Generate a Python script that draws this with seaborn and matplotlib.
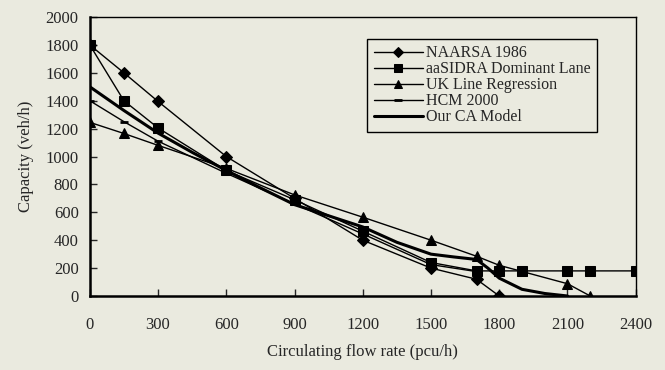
import matplotlib
matplotlib.use("Agg")
import matplotlib.pyplot as plt
import seaborn as sns

# Data
naarsa_x = [0, 150, 300, 600, 900, 1200, 1500, 1700, 1800]
naarsa_y = [1800, 1600, 1395, 1000, 700, 400, 200, 120, 0]

sidra_x = [0, 150, 300, 600, 900, 1200, 1500, 1700, 1800, 1900, 2100, 2200, 2400]
sidra_y = [1800, 1400, 1205, 900, 690, 465, 240, 180, 180, 180, 180, 180, 180]

uk_x = [0, 150, 300, 600, 900, 1200, 1500, 1700, 1800, 2100, 2200]
uk_y = [1245, 1165, 1080, 915, 725, 565, 400, 285, 220, 88, 0]

hcm_x = [0, 150, 300, 600, 900, 1200, 1500, 1700]
hcm_y = [1400, 1250, 1110, 880, 660, 445, 225, 175]

ca_x = [0, 150, 300, 450, 600, 750, 900, 1050, 1200, 1350, 1500, 1600, 1700, 1750, 1800, 1900, 2000, 2100]
ca_y = [1500, 1330, 1168, 1030, 900, 775, 655, 575, 495, 385, 300, 280, 262, 200, 128, 48, 18, 0]

x_ticks = [0, 300, 600, 900, 1200, 1500, 1800, 2100, 2400]
y_ticks = [0, 200, 400, 600, 800, 1000, 1200, 1400, 1600, 1800, 2000]

bg = "#eaeadf"

sns.set_style("ticks")
plt.rcParams['font.family'] = ['Liberation Serif', 'DejaVu Serif']

fig = plt.figure(figsize=(6.65, 3.7), dpi=100, facecolor=bg)
ax = fig.add_axes([0.135, 0.2, 0.821, 0.754])
ax.set_facecolor(bg)

common = dict(ax=ax, color="black", sort=False, markeredgecolor="black")
sns.lineplot(x=naarsa_x, y=naarsa_y, lw=1.0, marker="D", markersize=6,
             label="NAARSA 1986", **common)
sns.lineplot(x=sidra_x, y=sidra_y, lw=1.0, marker="s", markersize=6.5,
             label="aaSIDRA Dominant Lane", **common)
sns.lineplot(x=uk_x, y=uk_y, lw=1.0, marker="^", markersize=7.5,
             label="UK Line Regression", **common)
sns.lineplot(x=hcm_x, y=hcm_y, lw=1.0, marker="_", markersize=6,
             markeredgewidth=2, label="HCM 2000", **common)
sns.lineplot(x=ca_x, y=ca_y, lw=2.2, label="Our CA Model", **common)

ax.set_xlim(0, 2400)
ax.set_ylim(0, 2000)
ax.set_xticks(x_ticks)
ax.set_yticks(y_ticks)
ax.tick_params(axis="x", direction="in", length=5, pad=15, labelsize=12, width=1)
ax.tick_params(axis="y", direction="in", length=5, pad=8, labelsize=12, width=1)
for s in ax.spines.values():
    s.set_color("black")
    s.set_linewidth(1.0)
ax.spines["left"].set_linewidth(1.8)
ax.spines["bottom"].set_linewidth(1.8)

ax.set_xlabel("Circulating flow rate (pcu/h)", fontsize=12, labelpad=8)
ax.set_ylabel("Capacity (veh/h)", fontsize=12, labelpad=8)

leg = ax.legend(loc="upper left", bbox_to_anchor=(0.508, 0.921), fontsize=11.5,
                frameon=True, fancybox=False, edgecolor="black", facecolor=bg,
                framealpha=1, handlelength=3.1, handletextpad=0.2,
                labelspacing=0.0, borderpad=0.4, borderaxespad=0,
                markerscale=0.85)
leg.get_frame().set_linewidth(1.0)

fig.savefig("out.png", dpi=100, facecolor=bg)
